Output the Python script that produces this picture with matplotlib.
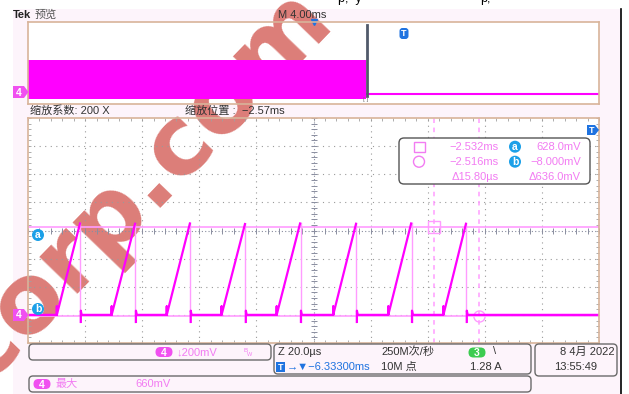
import numpy as np
import matplotlib
matplotlib.use("Agg")
import matplotlib.pyplot as plt
from matplotlib.patches import Rectangle, FancyBboxPatch, Circle, Polygon

plt.rcParams['font.family'] = ['Liberation Sans', 'Noto Sans CJK SC', 'DejaVu Sans']

W, H = 629, 394

# zoomed trace (time in us relative to zoom centre, volts)
ramp_start_us = [-89.9, -70.7, -51.4, -32.2, -12.9, 6.9, 26.2, 45.5]
peak_us = [-81.8, -62.5, -43.3, -24.0, -4.7, 14.9, 34.2, 53.4]
peak_v = [0.650, 0.648, 0.650, 0.646, 0.650, 0.648, 0.650, 0.648]

# cursors
cursor_t = [42.3, 58.1]
cursor_v = [0.628, -0.008]
readout_t = ["\u22122.532ms", "\u22122.516ms", "\u039415.80\u00b5s"]
readout_v = ["628.0mV", "\u22128.000mV", "\u0394636.0mV"]

# overview record (ms)
burst_ms = [0.0, 23.7]
burst_lo, burst_hi = -0.10, 0.66
record_end_ms = 40.0

MAG = '#ff00ff'
PALE = '#ff9cff'
TXT = '#f27cf2'
TAN = '#d8b49a'
BG = '#fdf4fb'
CYAN = '#1ba0e8'
BLUE = '#1f73e0'


def px_axes(x0, y0, x1, y1, z):
    return fig.add_axes([x0 / W, 1 - y1 / H, (x1 - x0) / W, (y1 - y0) / H], zorder=z)


fig = plt.figure(figsize=(W / 100, H / 100), dpi=100)
fig.patch.set_facecolor('white')

# background layer (pixel coords)
bg = px_axes(0, 0, W, H, -3)
bg.set_xlim(0, W); bg.set_ylim(H, 0); bg.axis('off')
bg.add_patch(Rectangle((13, 9), 608, 390, fc=BG, ec='none'))
bg.add_patch(Rectangle((28, 22), 571, 82, fc='white', ec='none'))
bg.add_patch(Rectangle((28, 118), 571, 225, fc='white', ec='none'))
bg.plot([621, 621], [9, 394], color='black', lw=1.2)
bg.text(338, 2, "p,  y", fontsize=9, color='black', va='baseline')
bg.text(480, 2, "p,", fontsize=9, color='black', va='baseline')

# watermark
fig.text(142 / W, 1 - 185 / H, "corp.com", fontsize=70, fontweight='bold',
         family='DejaVu Sans', color='#dc7d78', rotation=46,
         rotation_mode='anchor', ha='center', va='center', zorder=-2)

# overview panel
ov = px_axes(28, 22, 599, 104, 0)
ov.set_facecolor('none')
ov.set_xlim(0, record_end_ms); ov.set_ylim(-0.2, 1.4)
ov.set_xticks([]); ov.set_yticks([])
for s in ov.spines.values():
    s.set_color(TAN); s.set_linewidth(1.2)
ov.fill_between(burst_ms, burst_lo, burst_hi, color=MAG, lw=0)
ov.plot([burst_ms[1], record_end_ms], [0.0, 0.0], color=MAG, lw=1.5)
ov.plot([23.78, 23.78], [-0.05, 1.35], color='#505a6a', lw=2)
ov.plot([20.0], [1.4], marker='v', color=BLUE, ms=5, clip_on=False)

# main zoomed panel
ax = px_axes(28, 118, 599, 343, 0)
ax.set_facecolor('none')
ax.set_xlim(-100, 100); ax.set_ylim(-0.2, 1.4)
ax.set_xticks(np.arange(-100, 100.1, 4))
ax.set_yticks(np.arange(-0.2, 1.401, 0.04))
ax.tick_params(direction='in', length=2.5, width=0.6, color='#a0a0a0',
               labelbottom=False, labelleft=False, top=True, right=True)
for s in ax.spines.values():
    s.set_color(TAN); s.set_linewidth(1.2)
for gx in np.arange(-80, 81, 20):
    if gx != 0:
        ax.axvline(gx, color='#9a9a9a', lw=0.8, ls=(0, (1, 4)))
for gy in np.arange(0.0, 1.21, 0.2):
    if abs(gy - 0.6) > 1e-6:
        ax.axhline(gy, color='#9a9a9a', lw=0.8, ls=(0, (1, 4)))
ax.axvline(0, color='#8a8ea0', lw=0.8, ls=(0, (1, 2)))
ax.axhline(0.6, color='#8a8ea0', lw=0.8, ls=(0, (1, 2)))
fine_y = np.arange(-0.2, 1.401, 0.04)
fine_x = np.arange(-100, 100.1, 4)
ax.plot(np.zeros_like(fine_y), fine_y, ls='none', marker='_', ms=5, mew=0.7, color='#8a8ea0')
ax.plot(fine_x, np.full_like(fine_x, 0.6), ls='none', marker='|', ms=5, mew=0.7, color='#8a8ea0')

# cursors
ax.axhline(cursor_v[0], color=PALE, lw=1.2)
ax.axhline(cursor_v[1], color=PALE, lw=1.2)
ax.axvline(cursor_t[0], color=PALE, lw=1.1, ls=(0, (3, 3)))
ax.axvline(cursor_t[1], color=PALE, lw=1.1, ls=(0, (3, 3)))
ax.plot([cursor_t[0]], [cursor_v[0]], marker='s', ms=8, mfc='none', mec=PALE, mew=1)
ax.plot([cursor_t[1]], [cursor_v[1]], marker='o', ms=8, mfc='none', mec=PALE, mew=1)

# trace
xs, ys = [-100.0], [0.0]
for rs, pk, pv in zip(ramp_start_us, peak_us, peak_v):
    xs += [rs, rs, rs, pk, np.nan, pk + 0.3, pk + 0.3, pk + 0.6]
    ys += [0.0, 0.06, 0.0, pv, np.nan, -0.05, 0.03, 0.0]
xs.append(100.0); ys.append(0.0)
for pk, pv in zip(peak_us, peak_v):
    ax.plot([pk + 0.15, pk + 0.15], [-0.05, pv], color=PALE, lw=1.0)
ax.plot(xs, ys, color=MAG, lw=1.6)

# overlay layer: text, badges, boxes
ov2 = px_axes(0, 0, W, H, 3)
ov2.set_xlim(0, W); ov2.set_ylim(H, 0); ov2.axis('off')


def pill(x, y, s, fc, w=17, h=10):
    ov2.add_patch(FancyBboxPatch((x - w / 2, y - h / 2), w, h,
                                 boxstyle="round,pad=0,rounding_size=5", fc=fc, ec='none'))
    ov2.text(x, y + 0.5, s, color='white', fontsize=7.5, fontweight='bold', ha='center', va='center')


def dot(x, y, s):
    ov2.add_patch(Circle((x, y), 6, fc=CYAN, ec='none'))
    ov2.text(x, y + 0.3, s, color='white', fontsize=7.5, fontweight='bold', ha='center', va='center')


def chan_tab(y):
    ov2.add_patch(Polygon([(13, y - 6), (24, y - 6), (28.5, y), (24, y + 6), (13, y + 6)],
                          closed=True, fc='#f050f0', ec='none'))
    ov2.text(19, y + 0.5, "4", color='white', fontsize=7.5, fontweight='bold', ha='center', va='center')


def box(x0, y0, x1, y1):
    ov2.add_patch(FancyBboxPatch((x0, y0), x1 - x0, y1 - y0,
                                 boxstyle="round,pad=0,rounding_size=4",
                                 fc='none', ec='#6a6a6a', lw=1))


ov2.text(13, 15, "Tek", fontsize=8, fontweight='bold', color='#222222', va='center')
ov2.text(35, 15, "预览", fontsize=8, color='#555555', va='center')
ov2.text(278, 15, "M 4.00ms", fontsize=8, color='#333333', va='center')
ov2.text(30, 111, "缩放系数: 200 X", fontsize=8, color='#333333', va='center')
ov2.text(185, 111, "缩放位置 :  \u22122.57ms", fontsize=8, color='#333333', va='center')
ov2.text(366, 99, "[ ]", fontsize=4.5, color='#777777', ha='center', va='center')

# trigger badges
ov2.add_patch(FancyBboxPatch((399.5, 28), 9, 11, boxstyle="round,pad=0,rounding_size=3", fc=BLUE, ec='none'))
ov2.text(404, 33.5, "T", color='white', fontsize=6.5, fontweight='bold', ha='center', va='center')
ov2.add_patch(Polygon([(587, 125), (595, 125), (599, 130), (595, 135), (587, 135)], closed=True, fc=BLUE, ec='none'))
ov2.text(592, 130.5, "T", color='white', fontsize=6.5, fontweight='bold', ha='center', va='center')

chan_tab(92)
chan_tab(315)
dot(38, 235, "a")
dot(38, 309, "b")

# cursor readout
ov2.add_patch(FancyBboxPatch((399, 138), 191, 46, boxstyle="round,pad=0,rounding_size=5",
                             fc='white', ec='#555555', lw=1))
ov2.add_patch(Rectangle((413.5, 141.5), 11, 10, fc='none', ec=TXT, lw=1))
ov2.add_patch(Circle((419, 161.7), 5.5, fc='none', ec=TXT, lw=1))
rows_y = [146.7, 161.7, 177.0]
for i in range(3):
    ov2.text(499, rows_y[i], readout_t[i], fontsize=8, color=TXT, ha='right', va='center')
    ov2.text(581, rows_y[i], readout_v[i], fontsize=8, color=TXT, ha='right', va='center')
dot(515, 146.7, "a")
dot(515, 161.7, "b")

# bottom info boxes
box(29, 344, 271, 360)
box(274, 344, 531, 374)
box(535, 344, 617, 376)
box(29, 376, 531, 392)
pill(164, 352, "4", '#f050f0')
ov2.text(177, 352, "\u2193200mV", fontsize=8, color=TXT, va='center')
ov2.text(244, 351, "B", fontsize=4.5, color=TXT, va='center')
ov2.text(247, 355, "W", fontsize=4, color=TXT, va='center')
ov2.text(278, 352, "Z 20.0\u00b5s", fontsize=8, color='#333333', va='center')
ov2.add_patch(Rectangle((276, 362), 9, 10, fc=BLUE, ec='none'))
ov2.text(280.5, 367.3, "T", color='white', fontsize=6.5, fontweight='bold', ha='center', va='center')
ov2.text(287, 367, "\u2192\u25bc\u22126.33300ms", fontsize=8, color=BLUE, va='center')
ov2.text(381, 352, "250M次/秒", fontsize=8, color='#333333', va='center')
ov2.text(381, 367, "10M 点", fontsize=8, color='#333333', va='center')
pill(477, 352.5, "3", '#3ccc50')
ov2.text(493, 351, "\\", fontsize=8, color='#333333', va='center')
ov2.text(502, 367, "1.28 A", fontsize=8, color='#333333', ha='right', va='center')
ov2.text(615, 352, "8 4月 2022", fontsize=8, color='#333333', ha='right', va='center')
ov2.text(576, 367, "13:55:49", fontsize=8, color='#333333', ha='center', va='center')
pill(42, 384, "4", '#f050f0')
ov2.text(56, 384, "最大", fontsize=8, color=TXT, va='center')
ov2.text(135, 384, "660mV", fontsize=8, color=TXT, va='center')

fig.savefig("out.png", dpi=100)
